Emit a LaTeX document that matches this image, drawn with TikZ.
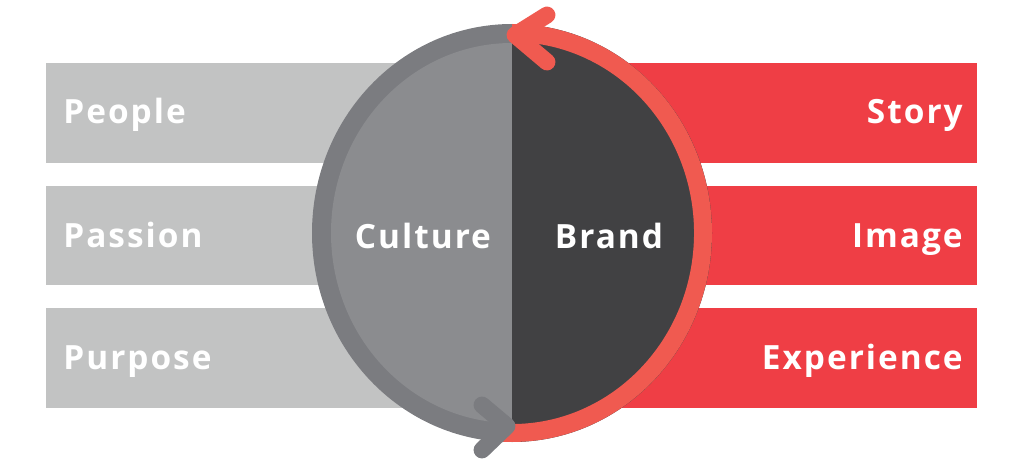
\documentclass[tikz,border=0pt]{standalone}
\usepackage{fontspec}
\setsansfont{Open Sans}[LetterSpace=6]
\usepackage{tikz}
\usetikzlibrary{calc}
\definecolor{barGray}{HTML}{C2C3C3}
\definecolor{barRed}{HTML}{EF3E45}
\definecolor{ringGray}{HTML}{7B7C80}
\definecolor{coreGray}{HTML}{8B8C8F}
\definecolor{coreDark}{HTML}{414143}
\definecolor{ringRed}{HTML}{F05A50}
\tikzset{
	bar/.style={draw=none,rectangle,minimum width=9.32cm,minimum height=2cm,inner sep=0pt},
	word/.style={text=white,font=\sffamily\bfseries\fontsize{19}{22}\selectfont,inner sep=0pt},
	ring/.style={line width=10.2pt},
	chev/.style={line width=9.6pt,line cap=round,line join=round}
}

\begin{document}
\begin{tikzpicture}[x=0.02cm,y=0.02cm]
	\useasboundingbox (0,0) rectangle (1024,474);
	% bars
	\node[bar,fill=barGray] (barpeople) at (279,361) {};
	\node[bar,fill=barGray] (barpassion) at (279,238.5) {};
	\node[bar,fill=barGray] (barpurpose) at (279,116) {};
	\node[bar,fill=barRed] (barstory) at (744.5,361) {};
	\node[bar,fill=barRed] (barimage) at (744.5,238.5) {};
	\node[bar,fill=barRed] (barexperience) at (744.5,116) {};
	
	% circle
	\coordinate (o) at (512,241);
	\fill[ringGray] ($(o)+(0,209)$) arc[start angle=90,end angle=270,x radius=200,y radius=209] -- cycle;
	\fill[coreGray] ($(o)+(0,190)$) arc[start angle=90,end angle=270,x radius=181,y radius=190] -- cycle;
	\fill[coreDark] ($(o)+(0,-209)$) arc[start angle=-90,end angle=90,x radius=200,y radius=209] -- cycle;
	\draw[ringRed,ring] ($(o)+(-10,-199.7)$) arc[start angle=-93,end angle=90,x radius=191,y radius=200];
	
	% arrow heads
	\coordinate (redtip) at (515,439);
	\coordinate (graytip) at (507,48);
	\draw[ringRed,chev] (547,459) -- (redtip) -- (547,412);
	\draw[ringGray,chev] (482,69) -- (graytip) -- (482,24);
	
	% labels
	\node[word,anchor=base west] (people) at (63,350) {People};
	\node[word,anchor=base west] (passion) at (63,227) {Passion};
	\node[word,anchor=base west] (purpose) at (63,105) {Purpose};
	\node[word,anchor=base east] (story) at (963,350) {Story};
	\node[word,anchor=base east] (image) at (963,227) {Image};
	\node[word,anchor=base east] (experience) at (963,105) {Experience};
	\node[word,anchor=base] (culture) at (423,226) {Culture};
	\node[word,anchor=base] (brand) at (609,226) {Brand};
\end{tikzpicture}
\end{document}
